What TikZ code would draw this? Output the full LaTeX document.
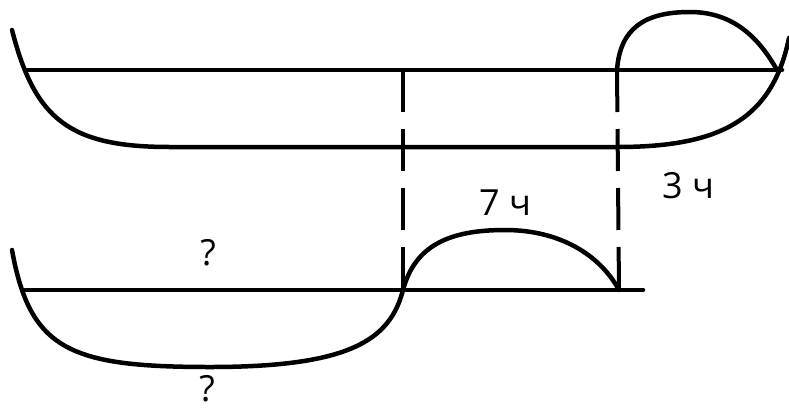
\documentclass[tikz,border=0pt]{standalone}
\usepackage{fontspec}
\setmainfont{Open Sans}
\tikzset{
  stroke/.style={line width=4.5pt, line cap=round},
  dashline/.style={line width=4pt, dash pattern=on 42pt off 17pt},
  lbl/.style={font=\fontsize{36}{40}\selectfont, inner sep=0pt}
}
\begin{document}
\begin{tikzpicture}[x=1pt,y=-1pt]
      \useasboundingbox (0,0) rectangle (789,410);
      \coordinate (A1) at (403,70);
      \coordinate (A2) at (403,290);
      \coordinate (B1) at (617,70);
      \coordinate (B2) at (619,290);
      % upper figure
      \draw [stroke] (25,70) -- (782,70);
      \draw [stroke] (12,30) .. controls (35,120) and (70,147) .. (170,147) -- (617,147)
        .. controls (720,147) and (772,120) .. (789,38);
      \draw [stroke] (B1) .. controls (620,28) and (645,12) .. (690,12)
        .. controls (735,12) and (760,40) .. (777,70);
      % lower figure
      \draw [stroke] (25,290) -- (643,290);
      \draw [stroke] (12,250) .. controls (30,350) and (70,367) .. (210,367)
        .. controls (350,367) and (390,340) .. (A2)
        .. controls (415,245) and (450,230) .. (505,230)
        .. controls (560,230) and (600,255) .. (B2);
      \draw [dashline] (A1) -- (A2);
      \draw [dashline] (B1) -- (B2);
      \node [lbl] (q1) at (208,253) {?};
      \node [lbl] (q2) at (207,389) {?};
      \node [lbl] (t7) at (505,203) {7 ч};
      \node [lbl] (t3) at (688,186) {3 ч};
    \end{tikzpicture}
\end{document}
